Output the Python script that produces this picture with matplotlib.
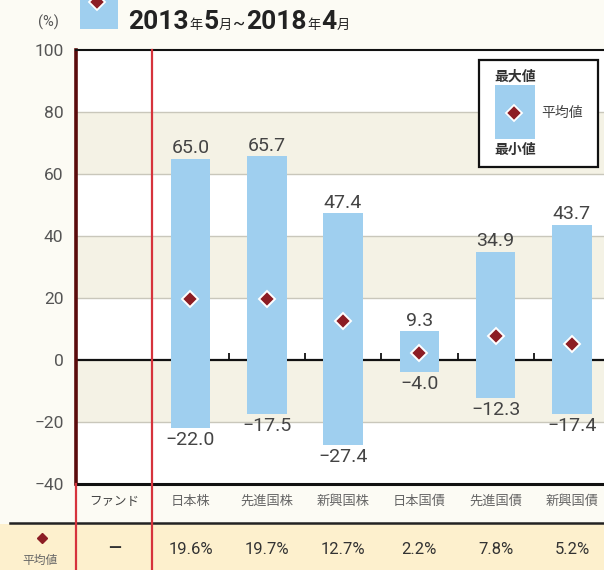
import numpy as np
import matplotlib
matplotlib.use('Agg')
import matplotlib.pyplot as plt
import matplotlib.transforms as mtrans
from matplotlib.patches import Rectangle
from matplotlib.lines import Line2D

plt.rcParams['font.family'] = ['Roboto', 'Noto Sans CJK JP', 'DejaVu Sans']
plt.rcParams['axes.unicode_minus'] = True

# ---- data ----
fund_label = 'ファンド'
categories = ['日本株', '先進国株', '新興国株', '日本国債', '先進国債', '新興国債']
max_vals = [65.0, 65.7, 47.4, 9.3, 34.9, 43.7]
min_vals = [-22.0, -17.5, -27.4, -4.0, -12.3, -17.4]
mean_vals = [19.6, 19.7, 12.7, 2.2, 7.8, 5.2]
yticks = [-40, -20, 0, 20, 40, 60, 80, 100]
title_parts = [('2013', 19, 'bold'), ('年', 9.5, 'normal'), ('5', 19, 'bold'),
               ('月', 9.5, 'normal'), ('~', 13, 'normal'), ('2018', 19, 'bold'),
               ('年', 9.5, 'normal'), ('4', 19, 'bold'), ('月', 9.5, 'normal')]

# ---- style ----
W, H = 604, 570
BG = '#fcfbf4'
BAND = '#f4f2e5'
BLUE = '#9fcfef'
DIAM = '#8c1d24'
RED = '#d6333c'
TXT = '#444444'
MEANBG = '#fdf0cd'


def fx(x):
    return x / W


def fy(y):
    return 1 - y / H


fig = plt.figure(figsize=(W / 100, H / 100), dpi=100, facecolor=BG)

# mean row background
fig.add_artist(Rectangle((0, 0), 1, fy(524), transform=fig.transFigure,
                         facecolor=MEANBG, edgecolor='none', zorder=0))

ax = fig.add_axes([fx(76), fy(484), 1 - fx(76), (484 - 50) / H])
ax.set_facecolor('white')
ax.set_ylim(-40, 100)
ax.set_xlim(-0.5, 6.42)

# bands and grid
for i, lo in enumerate(range(-40, 100, 20)):
    if i % 2 == 1:
        ax.axhspan(lo, lo + 20, color=BAND, lw=0, zorder=0)
for t in yticks:
    if t not in (-40, 0, 100):
        ax.axhline(t, color='#c9c7bb', lw=1.0, zorder=0.5)
ax.axhline(0, color='#111111', lw=1.6, zorder=1.5)

xpos = np.arange(1, len(categories) + 1)
# boundary ticks on zero line
for b in xpos[:-1] + 0.5:
    ax.plot([b, b], [0, 2.3], color='#111111', lw=1.3, zorder=1.6,
            solid_capstyle='butt')

heights = [mx - mn for mx, mn in zip(max_vals, min_vals)]
ax.bar(xpos, heights, bottom=min_vals, width=0.52, color=BLUE, zorder=2)
ax.plot(xpos, mean_vals, linestyle='none', marker='D', ms=8.5,
        markerfacecolor=DIAM, markeredgecolor='white', markeredgewidth=1.4, zorder=3)

for x, mx, mn in zip(xpos, max_vals, min_vals):
    ax.annotate(f'{mx:.1f}', (x, mx), xytext=(0, 1), textcoords='offset points',
                ha='center', va='bottom', fontsize=14, color=TXT)
    ax.annotate(f'{mn:.1f}'.replace('-', '\u2212'), (x, mn), xytext=(0, -2),
                textcoords='offset points', ha='center', va='top', fontsize=14, color=TXT)

ax.set_yticks(yticks)
ax.set_yticklabels([str(t).replace('-', '\u2212') for t in yticks], fontsize=12.5, color='#555555')
ax.tick_params(axis='y', length=0, pad=9)
ax.set_xticks([])
for s in ['right']:
    ax.spines[s].set_visible(False)
ax.spines['top'].set_color('#111111')
ax.spines['top'].set_linewidth(1.5)
ax.spines['bottom'].set_color('#111111')
ax.spines['bottom'].set_linewidth(2.2)
ax.spines['left'].set_color('#5a0b0b')
ax.spines['left'].set_linewidth(2.6)

# table rows
bt = mtrans.blended_transform_factory(ax.transData, fig.transFigure)
fig.add_artist(Line2D([-0.5, -0.5], [0, fy(484)], transform=bt, color=RED, lw=1.6, zorder=5))
fig.add_artist(Line2D([0.5, 0.5], [0, fy(50)], transform=bt, color=RED, lw=1.6, zorder=5))
fig.add_artist(Line2D([fx(10), 1], [fy(523), fy(523)], transform=fig.transFigure,
                      color='#222222', lw=1.8, zorder=4))

fig.text(0, fy(501), fund_label, transform=bt, ha='center', va='center',
         fontsize=9, color='#444444')
for x, c in zip(xpos, categories):
    fig.text(x, fy(501), c, transform=bt, ha='center', va='center',
             fontsize=9.5, color='#666666')
fig.text(0, fy(548), '—', transform=bt, ha='center', va='center',
         fontsize=12, color='#333333', fontweight='bold')
for x, m in zip(xpos, mean_vals):
    fig.text(x, fy(549), f'{m:.1f}%', transform=bt, ha='center', va='center',
             fontsize=12, color='#333333')
fig.add_artist(Line2D([fx(42)], [fy(538)], transform=fig.transFigure, marker='D',
                      ms=5, color=DIAM, linestyle='none'))
fig.text(fx(40), fy(560), '平均値', ha='center', va='center', fontsize=8.5, color='#666666')

# legend box
fig.add_artist(Rectangle((fx(479), fy(167)), fx(119), (167 - 60) / H,
                         transform=fig.transFigure, facecolor='white',
                         edgecolor='#111111', lw=1.6, zorder=6))
fig.add_artist(Rectangle((fx(495), fy(139)), fx(40), (139 - 85) / H,
                         transform=fig.transFigure, facecolor=BLUE,
                         edgecolor='none', zorder=7))
fig.add_artist(Line2D([fx(514)], [fy(113)], transform=fig.transFigure, marker='D',
                      ms=8, markerfacecolor=DIAM, markeredgecolor='white',
                      markeredgewidth=1.3, linestyle='none', zorder=8))
fig.text(fx(515), fy(77), '最大値', ha='center', va='center', fontsize=10,
         color='#333333', fontweight='bold', zorder=8)
fig.text(fx(515), fy(150), '最小値', ha='center', va='center', fontsize=10,
         color='#333333', fontweight='bold', zorder=8)
fig.text(fx(541), fy(113), '平均値', ha='left', va='center', fontsize=10,
         color='#444444', zorder=8)

# title
fig.add_artist(Rectangle((fx(80), fy(29)), fx(38), 40 / H, transform=fig.transFigure,
                         facecolor=BLUE, edgecolor='none', clip_on=False))
fig.add_artist(Line2D([fx(97)], [fy(2)], transform=fig.transFigure, marker='D',
                      ms=8, markerfacecolor=DIAM, markeredgecolor='white',
                      markeredgewidth=1.3, linestyle='none'))
fig.text(fx(48), fy(22), '(%)', ha='center', va='center', fontsize=10.5, color='#555555')

prev = None
for txt, size, weight in title_parts:
    if prev is None:
        prev = fig.text(fx(128), fy(29), txt, ha='left', va='baseline',
                        fontsize=size, fontweight=weight, color='#222222')
    else:
        prev = ax.annotate(txt, xy=(1, fy(29)), xycoords=(prev, 'figure fraction'),
                           xytext=(0.5, 0), textcoords='offset points',
                           ha='left', va='baseline', fontsize=size,
                           fontweight=weight, color='#222222', annotation_clip=False)

fig.savefig('out.png', dpi=100, facecolor=BG)
